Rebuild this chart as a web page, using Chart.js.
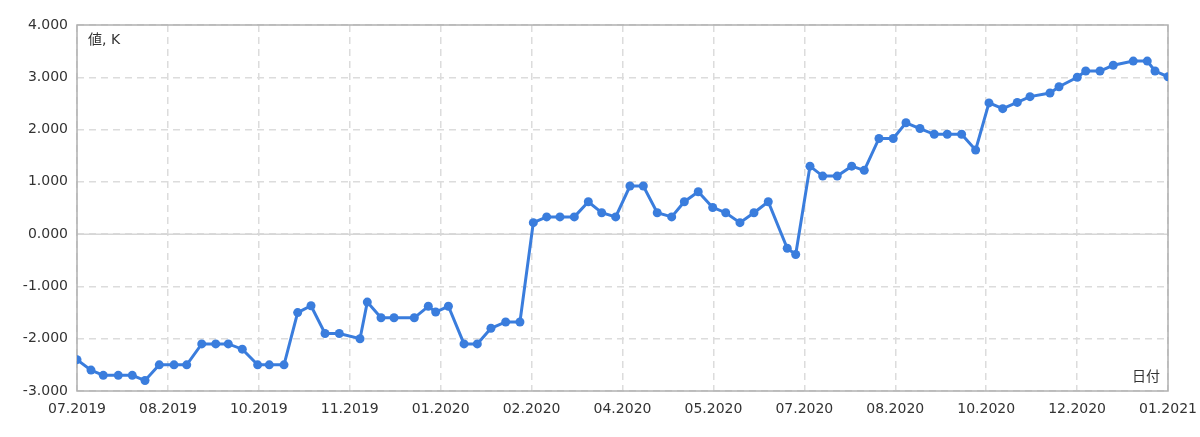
<!DOCTYPE html>
<html>
<head>
<meta charset="utf-8">
<script src="https://cdn.jsdelivr.net/npm/chart.js@4"></script>
<style>
  html, body { margin: 0; padding: 0; background: #fff; }
  #wrap { width: 1200px; height: 437px; }
</style>
</head>
<body>
<div id="wrap"><canvas id="chart"></canvas></div>
<script>
// x tick labels, one per grid interval
const tickLabels = ["07.2019", "08.2019", "10.2019", "11.2019", "01.2020", "02.2020",
  "04.2020", "05.2020", "07.2020", "08.2020", "10.2020", "12.2020", "01.2021"];

// position of each point along the axis (in grid intervals)
const xPos = [
  0, 0.154, 0.289, 0.454, 0.608, 0.748, 0.905, 1.067, 1.207, 1.372,
  1.526, 1.664, 1.818, 1.987, 2.115, 2.277, 2.427, 2.574, 2.728, 2.885,
  3.113, 3.193, 3.344, 3.487, 3.710, 3.864, 3.945, 4.085, 4.257, 4.403,
  4.553, 4.715, 4.872, 5.019, 5.166, 5.312, 5.470, 5.624, 5.771, 5.925,
  6.082, 6.229, 6.382, 6.541, 6.680, 6.833, 6.992, 7.135, 7.292, 7.446,
  7.603, 7.812, 7.905, 8.062, 8.202, 8.362, 8.521, 8.659, 8.821, 8.978,
  9.118, 9.272, 9.429, 9.572, 9.730, 9.884, 10.031, 10.182, 10.342, 10.482,
  10.702, 10.801, 11.002, 11.095, 11.252, 11.398, 11.618, 11.772, 11.857, 12
];

// values (K)
const values = [
  -2.4, -2.6, -2.7, -2.7, -2.7, -2.8, -2.5, -2.5, -2.5, -2.1,
  -2.1, -2.1, -2.2, -2.5, -2.5, -2.5, -1.5, -1.37, -1.9, -1.9,
  -2.0, -1.3, -1.6, -1.6, -1.6, -1.38, -1.49, -1.38, -2.1, -2.1,
  -1.8, -1.68, -1.68, 0.22, 0.33, 0.33, 0.33, 0.62, 0.41, 0.33,
  0.92, 0.92, 0.41, 0.33, 0.62, 0.81, 0.51, 0.41, 0.22, 0.41,
  0.62, -0.27, -0.39, 1.3, 1.11, 1.11, 1.3, 1.22, 1.83, 1.83,
  2.13, 2.02, 1.91, 1.91, 1.91, 1.61, 2.51, 2.4, 2.52, 2.63,
  2.7, 2.82, 3.0, 3.12, 3.12, 3.23, 3.31, 3.31, 3.12, 3.01
];

const yTitle = "値, K";
const xTitle = "日付";

const lineColor = "#3a7ddd";
const fontFamily = "'DejaVu Sans', 'Noto Sans CJK JP', sans-serif";

// frame, solid zero line and the two axis captions inside the plot
const framePlugin = {
  id: "frame",
  beforeDatasetsDraw(chart) {
    const { ctx, chartArea: a, scales } = chart;
    ctx.save();
    // zero line
    const y0 = scales.y.getPixelForValue(0);
    ctx.strokeStyle = "#d6d6d6";
    ctx.lineWidth = 1.5;
    ctx.beginPath();
    ctx.moveTo(a.left, y0);
    ctx.lineTo(a.right, y0);
    ctx.stroke();
    // box
    ctx.strokeStyle = "#b0b0b0";
    ctx.lineWidth = 1.5;
    ctx.strokeRect(a.left, a.top, a.right - a.left, a.bottom - a.top);
    // captions
    ctx.fillStyle = "#333";
    ctx.font = "14px " + fontFamily;
    ctx.textBaseline = "middle";
    ctx.textAlign = "left";
    ctx.fillText(yTitle, a.left + 11, a.top + 15);
    ctx.textAlign = "right";
    ctx.fillText(xTitle, a.right - 8, a.bottom - 14);
    ctx.restore();
  }
};

new Chart(document.getElementById("chart"), {
  type: "line",
  data: {
    datasets: [
      {
        data: xPos.map((x, i) => ({ x: x, y: values[i] })),
        borderColor: lineColor,
        backgroundColor: lineColor,
        borderWidth: 3,
        pointRadius: 4.5,
        pointBorderWidth: 0,
        pointBackgroundColor: lineColor,
        tension: 0,
      },
    ],
  },
  options: {
    responsive: true,
    maintainAspectRatio: false,
    animation: false,
    layout: { padding: { top: 25, right: 32, left: 0, bottom: 0 } },
    plugins: {
      legend: { display: false },
      tooltip: { enabled: false },
    },
    scales: {
      x: {
        type: "linear",
        min: 0,
        max: 12,
        afterFit(scale) {
          scale.height = 46;
          scale.paddingLeft = 0;
          scale.paddingRight = 0;
        },
        afterBuildTicks(scale) {
          scale.ticks = tickLabels.map((_, i) => ({ value: i }));
        },
        ticks: {
          autoSkip: false,
          maxRotation: 0,
          padding: 10,
          color: "#333",
          font: { family: fontFamily, size: 14 },
          callback: (v) => tickLabels[v],
        },
        grid: { color: "#dcdcdc", lineWidth: 1.5, drawTicks: false },
        border: { display: false, dash: [7, 5] },
      },
      y: {
        min: -3,
        max: 4,
        afterFit(scale) {
          scale.width = 77;
          scale.paddingTop = 0;
          scale.paddingBottom = 0;
        },
        ticks: {
          stepSize: 1,
          padding: 9,
          color: "#333",
          font: { family: fontFamily, size: 14 },
          callback: (v) => v.toFixed(3),
        },
        grid: { color: "#dcdcdc", lineWidth: 1.5, drawTicks: false },
        border: { display: false, dash: [7, 5] },
      },
    },
  },
  plugins: [framePlugin],
});
</script>
</body>
</html>
